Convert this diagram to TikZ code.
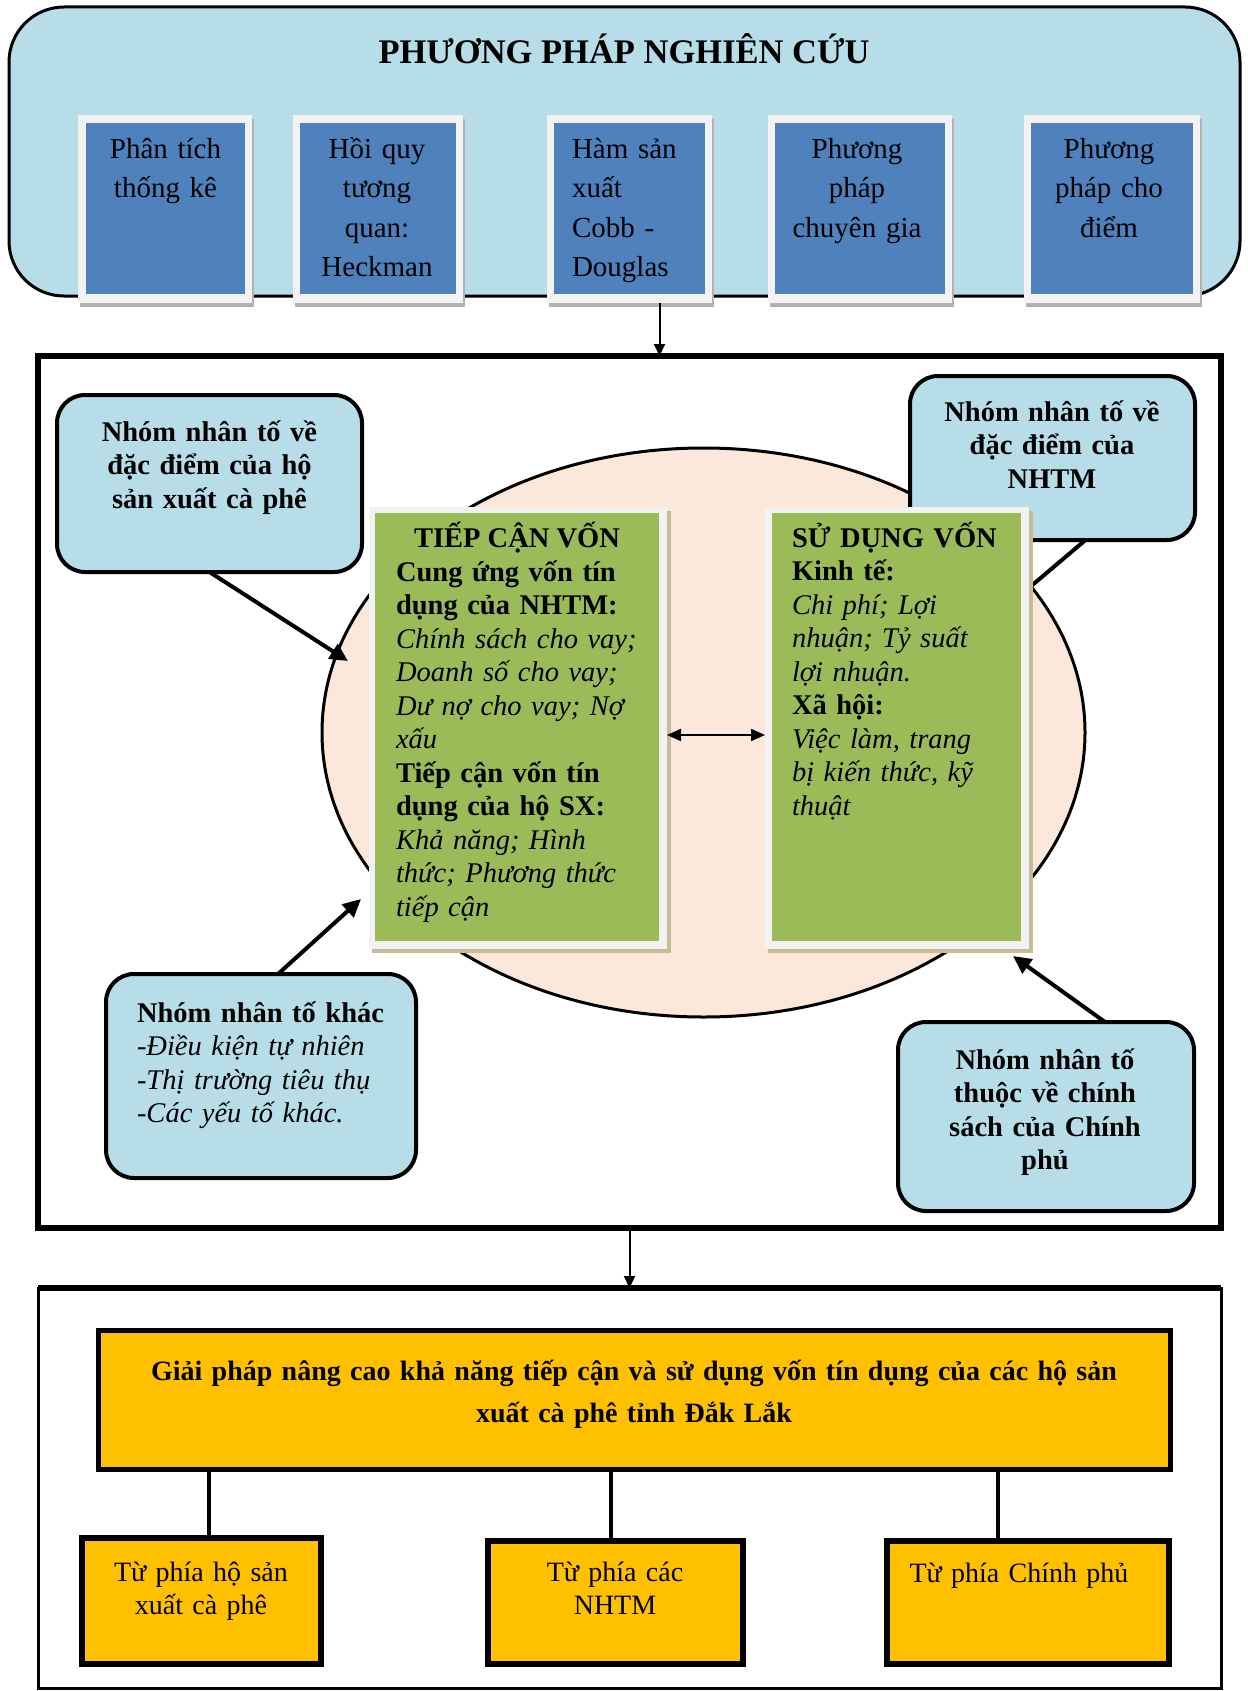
\documentclass[tikz,border=0pt]{standalone}
\usepackage{fontspec}
\setmainfont{Liberation Serif}
\usetikzlibrary{arrows.meta,shapes.geometric,fit}
\definecolor{topblue}{HTML}{B7DEE8}
\definecolor{boxblue}{HTML}{4F81BD}
\definecolor{frameg}{HTML}{F2F2F2}
\definecolor{peach}{HTML}{FCE8DA}
\definecolor{greenbx}{HTML}{9BBB59}
\definecolor{orangebx}{HTML}{FFC000}
\definecolor{tanbx}{HTML}{C4BD97}
\begin{document}
\begin{tikzpicture}[x=1pt,y=-1pt,
  every node/.style={inner sep=0pt, outer sep=0pt},
  fnt/.style={font=\fontsize{28.5}{33.5}\selectfont},
  fntb/.style={font=\fontsize{28.5}{33.5}\selectfont\bfseries},
  fntm/.style={font=\fontsize{29}{39.5}\selectfont},
  fnts/.style={font=\fontsize{28}{33.5}\selectfont},
  rbox/.style={draw=black, line width=3pt, fill=topblue, rounded corners=55pt},
  callout/.style={draw=black, line width=4pt, fill=topblue, rounded corners=28pt},
  thickarrow/.style={line width=4pt, -{Triangle[length=18pt,width=17pt]}},
  thinarrow/.style={line width=2pt, -{Triangle[length=12pt,width=11pt]}},
  orbox/.style={draw=black, fill=orangebx},
]
\useasboundingbox (0,0) rectangle (1247,1691);
\fill[white] (0,0) rectangle (1247,1691);

% ---------- top block ----------
\node[rbox, fit={(9,7)(1240,296)}] (top) {};
\node[font=\fontsize{34.5}{40}\selectfont\bfseries, anchor=base] (title) at (624,64) {PHƯƠNG PHÁP NGHIÊN CỨU};

% box 1
\fill[black!30] (80,119) rectangle (254,307);
\node[fill=frameg, fit={(78,115)(252,303)}] (m1) {};
\node[fill=boxblue, fit={(86,123)(245,294)}] (m1i) {};
\node[fntm, align=center, text width=170, anchor=base] (m1t) at (165.5,158) {Phân tích\\thống kê};
% box 2
\fill[black!30] (295,119) rectangle (465,307);
\node[fill=frameg, fit={(293,115)(463,303)}] (m2) {};
\node[fill=boxblue, fit={(300,123)(456,294)}] (m2i) {};
\node[fntm, align=center, text width=170, anchor=base] (m2t) at (377,158) {Hồi quy\\tương\\quan:\\Heckman};
% box 3
\fill[black!30] (549,119) rectangle (714,307);
\node[fill=frameg, fit={(547,115)(712,303)}] (m3) {};
\node[fill=boxblue, fit={(554,123)(705,294)}] (m3i) {};
\node[fntm, align=left, text width=140, anchor=base west] (m3t) at (572,158) {Hàm sản\\xuất\\Cobb -\\Douglas};
% box 4
\fill[black!30] (770,119) rectangle (954,307);
\node[fill=frameg, fit={(768,115)(952,303)}] (m4) {};
\node[fill=boxblue, fit={(775,123)(945,294)}] (m4i) {};
\node[fntm, align=center, text width=180, anchor=base] (m4t) at (857,158) {Phương\\pháp\\chuyên gia};
% box 5
\fill[black!30] (1026,119) rectangle (1202,307);
\node[fill=frameg, fit={(1024,115)(1200,303)}] (m5) {};
\node[fill=boxblue, fit={(1031,123)(1193,294)}] (m5i) {};
\node[fntm, align=center, text width=170, anchor=base] (m5t) at (1109,158) {Phương\\pháp cho\\điểm};

% middle frame and arrow to it
\node[draw=black, line width=6pt, fit={(38,356)(1221,1228)}] (mid) {};
\draw[thinarrow] ([xshift=30pt]m3.south) -- ([xshift=30pt]m3.south |- mid.north);

% ---------- middle block ----------
\node[ellipse, draw=black, line width=3pt, fill=peach, minimum width=763pt, minimum height=569pt] (ell) at (703.5,732.5) {};

% top right callout (behind right green box)
\node[callout, fit={(910,376)(1195,540)}] (c2) {};
\node[fntb, align=center, text width=280, anchor=base] (c2t) at (1052,421) {Nhóm nhân tố về\\đặc điểm của\\NHTM};
\coordinate (c2end) at (1030,587);
\draw[line width=4pt] ([xshift=33pt]c2.south) -- (c2end);

% left green box
\fill[tanbx] (372,511) rectangle (671,953);
\node[fill=frameg, fit={(369,507)(667,949)}] (g1o) {};
\node[fill=greenbx, fit={(375,513)(659,941)}] (g1) {};
\node[fntb, anchor=base] (g1t) at (517,547) {TIẾP CẬN VỐN};
\node[fnt, align=left, text width=270, anchor=base west] (g1b) at (396,581)
 {\textbf{Cung ứng vốn tín}\\\textbf{dụng của NHTM:}\\\textit{Chính sách cho vay;}\\\textit{Doanh số cho vay;}\\\textit{Dư nợ cho vay; Nợ}\\\textit{xấu}\\\textbf{Tiếp cận vốn tín}\\\textbf{dụng của hộ SX:}\\\textit{Khả năng; Hình}\\\textit{thức; Phương thức}\\\textit{tiếp cận}};

% right green box
\fill[tanbx] (768,511) rectangle (1033,953);
\node[fill=frameg, fit={(765,507)(1029,949)}] (g2o) {};
\node[fill=greenbx, fit={(772,513)(1021,941)}] (g2) {};
\node[fnt, align=left, text width=240, anchor=base west] (g2b) at (792,547)
 {\textbf{SỬ DỤNG VỐN}\\\textbf{Kinh tế:}\\\textit{Chi phí; Lợi}\\\textit{nhuận; Tỷ suất}\\\textit{lợi nhuận.}\\\textbf{Xã hội:}\\\textit{Việc làm, trang}\\\textit{bị kiến thức, kỹ}\\\textit{thuật}};

\draw[line width=2pt, {Triangle[length=14pt,width=12pt]}-{Triangle[length=14pt,width=12pt]}] ([yshift=-7pt]g1o.east) -- ([yshift=-7pt]g2o.west);

% top left callout
\node[callout, fit={(57,395)(362,572)}] (c1) {};
\node[fntb, align=center, text width=290, anchor=base] (c1t) at (209.5,441) {Nhóm nhân tố về\\đặc điểm của hộ\\sản xuất cà phê};
\coordinate (tip1) at (348,661);
\draw[thickarrow] (c1.south) -- (tip1);

% bottom left callout
\node[callout, fit={(106,974)(416,1178)}] (c3) {};
\node[fnt, align=left, text width=290, anchor=base west] (c3t) at (137,1022)
 {\textbf{Nhóm nhân tố khác}\\\textit{-Điều kiện tự nhiên}\\\textit{-Thị trường tiêu thụ}\\\textit{-Các yếu tố khác.}};
\coordinate (tip3) at (361,899);
\draw[thickarrow] ([xshift=17pt]c3.north) -- (tip3);

% bottom right callout
\node[callout, fit={(898,1022)(1194,1211)}] (c4) {};
\node[fntb, align=center, text width=280, anchor=base] (c4t) at (1045,1069) {Nhóm nhân tố\\thuộc về chính\\sách của Chính\\phủ};
\coordinate (tip4) at (1013,956);
\draw[thickarrow] ([xshift=59pt]c4.north) -- (tip4);

% ---------- bottom block ----------
\node[draw=black, line width=3pt, fit={(38,1288)(1221,1688)}] (bot) {};
\draw[line width=6pt] (bot.north west) -- (bot.north east);
\draw[thinarrow] (mid.south) -- (bot.north);

\node[orbox, line width=5pt, fit={(98,1330)(1170,1469)}] (sol) {};
\node[font=\fontsize{28}{42}\selectfont\bfseries, align=center, text width=1060, anchor=base] (solt) at (634,1380)
 {Giải pháp nâng cao khả năng tiếp cận và sử dụng vốn tín dụng của các hộ sản\\xuất cà phê tỉnh Đắk Lắk};

\node[orbox, line width=6pt, fit={(82,1538)(321,1664)}] (s1) {};
\node[orbox, line width=6pt, fit={(488,1541)(743,1664)}] (s2) {};
\node[orbox, line width=6pt, fit={(887,1541)(1169,1664)}] (s3) {};

\draw[line width=4pt] ([xshift=7.5pt]s1.north) -- ([xshift=7.5pt]s1.north |- sol.south);
\draw[line width=4pt] ([xshift=-4.5pt]s2.north) -- ([xshift=-4.5pt]s2.north |- sol.south);
\draw[line width=4pt] ([xshift=-30pt]s3.north) -- ([xshift=-30pt]s3.north |- sol.south);

\node[fnts, align=center, text width=230, anchor=base] (s1t) at (201,1581) {Từ phía hộ sản\\xuất cà phê};
\node[fnts, align=center, text width=240, anchor=base] (s2t) at (615,1581) {Từ phía các\\NHTM};
\node[fnts, align=center, text width=270, anchor=base] (s3t) at (1019,1582) {Từ phía Chính phủ};
\end{tikzpicture}
\end{document}
